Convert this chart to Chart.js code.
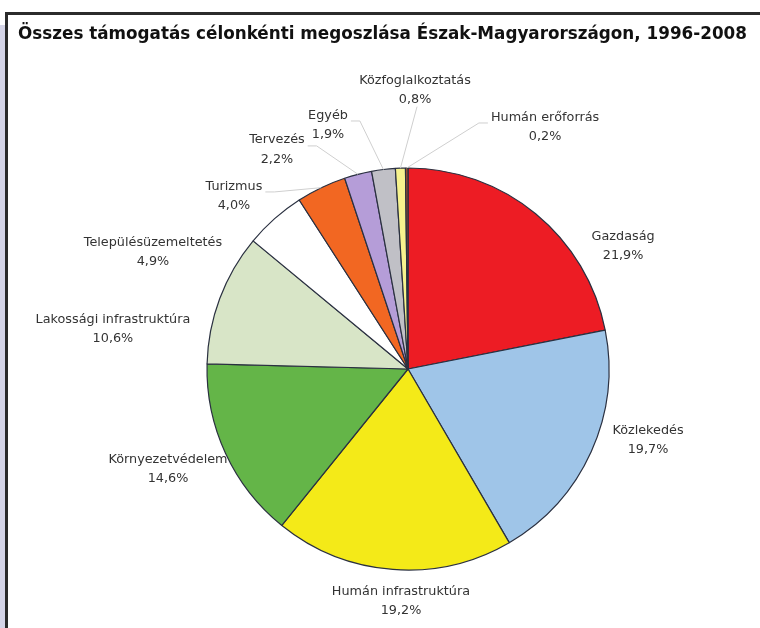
<!DOCTYPE html>
<html>
<head>
<meta charset="utf-8">
<script src="https://cdn.jsdelivr.net/npm/chart.js@4.4.1/dist/chart.umd.min.js"></script>
<style>
    html, body { margin: 0; padding: 0; background: #fff; }
    #wrap { width: 760px; height: 628px; position: relative; }
</style>
</head>
<body>
<div id="wrap"><canvas id="pie" width="760" height="628"></canvas></div>
<script>
const chartTitle = 'Összes támogatás célonkénti megoszlása Észak-Magyarországon, 1996-2008';
const categories = ['Gazdaság', 'Közlekedés', 'Humán infrastruktúra', 'Környezetvédelem', 'Lakossági infrastruktúra',
    'Településüzemeltetés', 'Turizmus', 'Tervezés', 'Egyéb', 'Közfoglalkoztatás', 'Humán erőforrás'];
const shares = [21.9, 19.7, 19.2, 14.6, 10.6, 4.9, 4.0, 2.2, 1.9, 0.8, 0.2];

const sliceColors = ['#ed1c24', '#9fc5e8', '#f4ea18', '#64b548', '#d8e5c7',
    '#ffffff', '#f26722', '#b59dd8', '#c0c0c6', '#f7f38e', '#a0522d'];

// label centre relative to pie centre, in units of the radius
const labelOffsets = [
    [1.07, -0.61], [1.194, 0.353], [-0.035, 1.154], [-1.194, 0.498], [-1.468, -0.199],
    [-1.269, -0.582], [-0.866, -0.861], [-0.652, -1.090], [-0.398, -1.214], [0.035, -1.388], [0.682, -1.204]
];
const hasLeader = [false, false, false, false, false, false, true, true, true, true, true];

const LABEL_FONT = '12.8px "DejaVu Sans"';
const LINE_H = 19.5;

const fmt = v => v.toFixed(1).replace('.', ',') + '%';

const framePlugin = {
    id: 'frame',
    beforeDraw(chart) {
        const ctx = chart.ctx;
        ctx.save();
        ctx.fillStyle = '#d5d5e8';
        ctx.fillRect(0, 25, 5, 628);
        ctx.fillStyle = '#2b2b2b';
        ctx.fillRect(5, 12, 760, 3);
        ctx.fillRect(5, 12, 3, 628);

        ctx.fillStyle = '#111';
        ctx.font = 'bold 16.8px "DejaVu Sans"';
        ctx.textBaseline = 'alphabetic';
        ctx.textAlign = 'left';
        ctx.fillText(chartTitle, 18, 39);
        ctx.restore();
    }
};

const labelPlugin = {
    id: 'sliceLabels',
    afterDatasetsDraw(chart) {
        const ctx = chart.ctx;
        const arcs = chart.getDatasetMeta(0).data;
        ctx.save();
        ctx.font = LABEL_FONT;
        arcs.forEach((arc, i) => {
            const {x, y, startAngle, endAngle, outerRadius} = arc.getProps(['x', 'y', 'startAngle', 'endAngle', 'outerRadius'], true);
            const cx = x + labelOffsets[i][0] * outerRadius;
            const cy = y + labelOffsets[i][1] * outerRadius;
            const lines = [categories[i], fmt(shares[i])];
            const w = Math.max(...lines.map(t => ctx.measureText(t).width));
            const x0 = cx - w / 2, x1 = cx + w / 2;
            const y1 = cy + LINE_H * 0.75;

            if (hasLeader[i]) {
                const mid = (startAngle + endAngle) / 2;
                const ex = x + Math.cos(mid) * outerRadius;
                const ey = y + Math.sin(mid) * outerRadius;
                ctx.strokeStyle = '#cfcfcf';
                ctx.lineWidth = 1;
                ctx.beginPath();
                if (ex >= x0 - 10 && ex <= x1 + 10 && ey > y1) {
                    ctx.moveTo(cx + 2, y1 + 2);
                } else if (ex > x1) {
                    ctx.moveTo(x1 + 3, cy - 4);
                    ctx.lineTo(x1 + 12, cy - 4);
                } else {
                    ctx.moveTo(x0 - 3, cy - 4);
                    ctx.lineTo(x0 - 12, cy - 4);
                }
                ctx.lineTo(ex, ey);
                ctx.stroke();
            }

            ctx.fillStyle = '#333';
            ctx.textAlign = 'center';
            ctx.textBaseline = 'middle';
            ctx.fillText(lines[0], cx, cy - LINE_H / 2);
            ctx.fillText(lines[1], cx, cy + LINE_H / 2);
        });
        ctx.restore();
    }
};

new Chart(document.getElementById('pie').getContext('2d'), {
    type: 'pie',
    data: {
        labels: categories,
        datasets: [{
            data: shares,
            backgroundColor: sliceColors,
            borderColor: '#2a3040',
            borderWidth: 1.2
        }]
    },
    options: {
        responsive: false,
        animation: false,
        radius: 201,
        layout: { padding: { left: 206, right: 150, top: 167, bottom: 57 } },
        plugins: {
            legend: { display: false },
            tooltip: { enabled: false }
        }
    },
    plugins: [framePlugin, labelPlugin]
});
</script>
</body>
</html>
